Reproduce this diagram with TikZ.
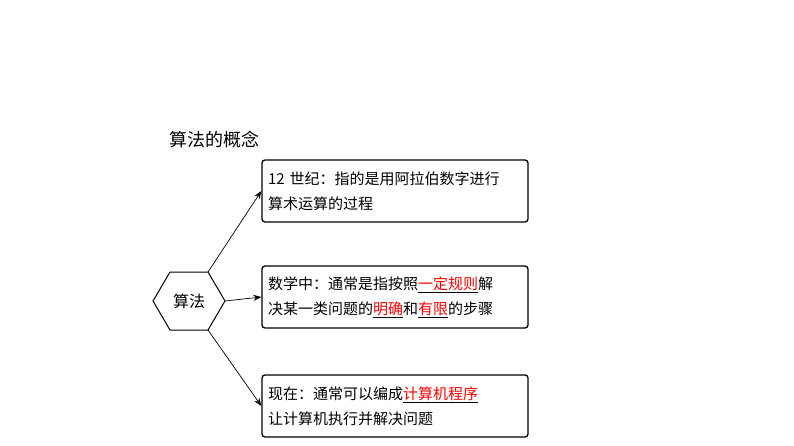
\documentclass[tikz,border=0pt]{standalone}
\usepackage{fontspec}
\setmainfont{Noto Sans CJK SC}
\usetikzlibrary{arrows.meta}
\newcommand{\redu}[1]{\underline{\textcolor{red}{#1}}}
\begin{document}
\begin{tikzpicture}[x=1pt,y=-1pt,
  box/.style={draw,line width=1.3pt,rounded corners=3pt,minimum width=266pt,minimum height=62pt,text width=254pt,align=left,inner sep=6pt,font=\fontsize{15}{25}\selectfont},
  arr/.style={line width=0.7pt,-{Stealth[length=8pt]}}]
\useasboundingbox (0,0) rectangle (794,446);
\node[font=\fontsize{18}{20}\selectfont,anchor=west] (t) at (166,140) {算法的概念};
\draw[line width=1pt] (153,301) coordinate (hl) -- (170,272) -- (208,272) coordinate (htr) -- (225,301) coordinate (hr) -- (208,330) coordinate (hbr) -- (170,330) -- cycle;
\node[font=\fontsize{16}{18}\selectfont] (hx) at (189,301) {算法};
\node[box] (b1) at (395,191) {12 世纪：指的是用阿拉伯数字进行\\算术运算的过程};
\node[box] (b2) at (395,297) {数学中：通常是指按照\redu{一定规则}解\\决某一类问题的\redu{明确}和\redu{有限}的步骤};
\node[box] (b3) at (395,406) {现在：通常可以编成\redu{计算机程序}\\让计算机执行并解决问题};
\draw[arr] (htr) -- (b1.west);
\draw[arr] (hr) -- (b2.west);
\draw[arr] (hbr) -- (b3.west);
\end{tikzpicture}
\end{document}
